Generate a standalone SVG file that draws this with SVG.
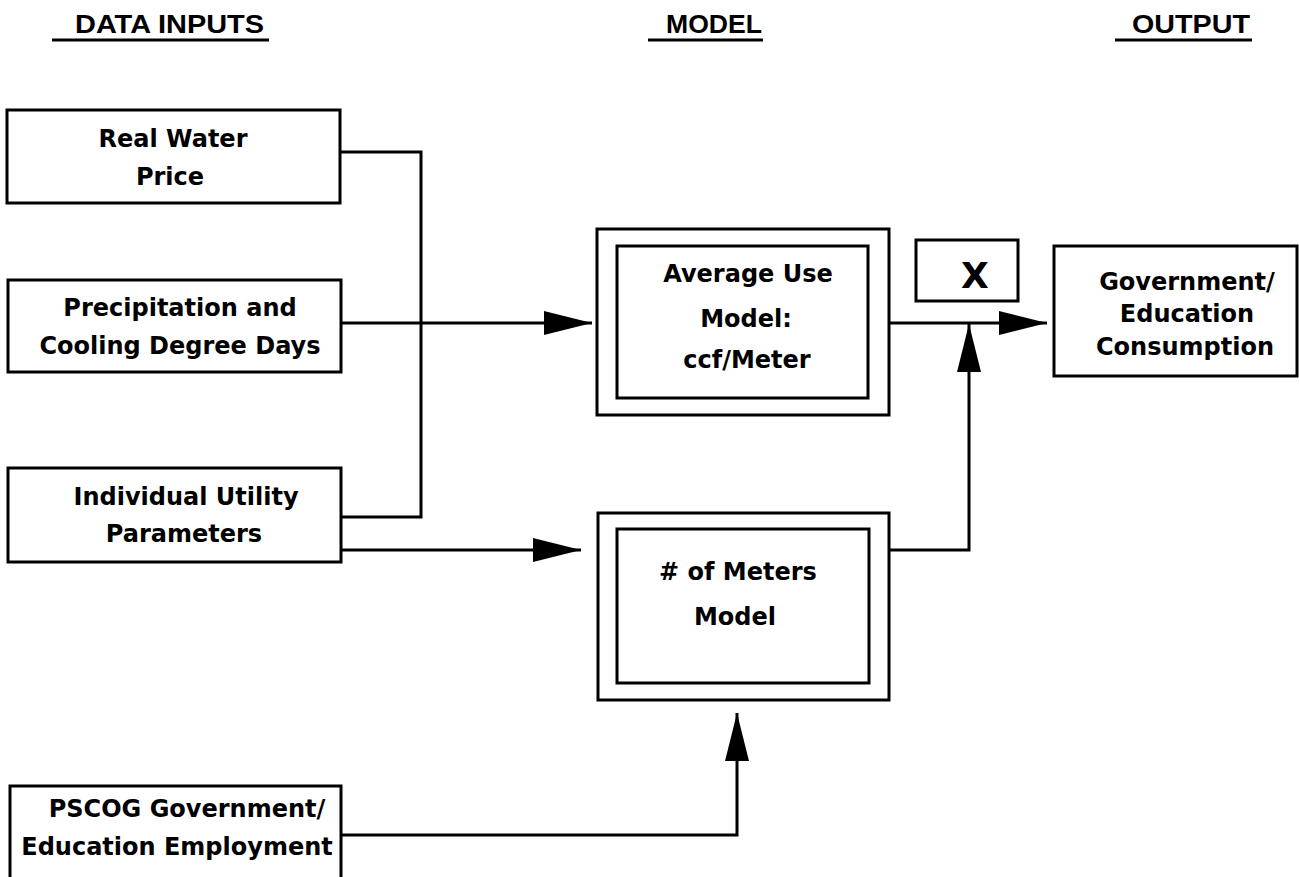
<svg xmlns="http://www.w3.org/2000/svg" width="1299" height="877" viewBox="0 0 1299 877">
<style>
.box{fill:#fff;stroke:#000;stroke-width:3}
.ln{fill:none;stroke:#000;stroke-width:3;stroke-linejoin:miter}
.t{font-family:"DejaVu Sans",sans-serif;font-weight:bold;font-size:24px;fill:#000;text-anchor:middle}
.h{font-family:"Liberation Sans",Arial,sans-serif;font-weight:bold;font-size:26px;fill:#000}
.ul{stroke:#000;stroke-width:3}
</style>
<defs>
<marker id="ah" viewBox="0 0 48 24" refX="48" refY="12" markerWidth="48" markerHeight="24" markerUnits="userSpaceOnUse" orient="auto">
<path d="M0,0 L48,12 L0,24 Z" fill="#000"/>
</marker>
</defs>
<rect width="1299" height="877" fill="#fff"/>
<g id="headers">
<text class="h" x="75" y="33" textLength="189" lengthAdjust="spacingAndGlyphs">DATA INPUTS</text>
<line class="ul" x1="52" y1="40" x2="269" y2="40"/>
<text class="h" x="666" y="33" textLength="96" lengthAdjust="spacingAndGlyphs">MODEL</text>
<line class="ul" x1="648" y1="40" x2="763" y2="40"/>
<text class="h" x="1132" y="33" textLength="118" lengthAdjust="spacingAndGlyphs">OUTPUT</text>
<line class="ul" x1="1115" y1="40" x2="1252" y2="40"/>
</g>
<g id="connectors">
<polyline class="ln" points="340,152 421,152 421,517 341,517"/>
<line class="ln" x1="341" y1="323" x2="592" y2="323" marker-end="url(#ah)"/>
<line class="ln" x1="341" y1="550" x2="581" y2="550" marker-end="url(#ah)"/>
<line class="ln" x1="889" y1="323" x2="1047" y2="323" marker-end="url(#ah)"/>
<polyline class="ln" points="889,550 969,550 969,324" marker-end="url(#ah)"/>
<polyline class="ln" points="341,835 737,835 737,713" marker-end="url(#ah)"/>
</g>
<g id="real-water-price">
<rect class="box" x="7" y="110" width="333" height="93"/>
<text class="t" x="173" y="147">Real Water</text>
<text class="t" x="170" y="185">Price</text>
</g>
<g id="precipitation">
<rect class="box" x="8" y="280" width="333" height="92"/>
<text class="t" x="180" y="316">Precipitation and</text>
<text class="t" x="180" y="354">Cooling Degree Days</text>
</g>
<g id="utility-parameters">
<rect class="box" x="8" y="468" width="333" height="94"/>
<text class="t" x="186" y="505">Individual Utility</text>
<text class="t" x="184" y="542">Parameters</text>
</g>
<g id="pscog-employment">
<rect class="box" x="10" y="786" width="331" height="110"/>
<text class="t" x="187" y="817">PSCOG Government/</text>
<text class="t" x="177" y="855">Education Employment</text>
</g>
<g id="average-use-model">
<rect class="box" x="597" y="229" width="292" height="186"/>
<rect class="box" x="617" y="246" width="251" height="152"/>
<text class="t" x="748" y="282">Average Use</text>
<text class="t" x="746" y="327">Model:</text>
<text class="t" x="747" y="368">ccf/Meter</text>
</g>
<g id="meters-model">
<rect class="box" x="598" y="513" width="291" height="187"/>
<rect class="box" x="617" y="529" width="252" height="154"/>
<text class="t" x="738" y="580"># of Meters</text>
<text class="t" x="735" y="625">Model</text>
</g>
<g id="multiply">
<rect class="box" x="916" y="240" width="102" height="61"/>
<text class="t" x="975" y="288" style="font-size:36px">X</text>
</g>
<g id="consumption">
<rect class="box" x="1054" y="246" width="243" height="130"/>
<text class="t" x="1187" y="290">Government/</text>
<text class="t" x="1187" y="322">Education</text>
<text class="t" x="1185" y="355">Consumption</text>
</g>
</svg>
